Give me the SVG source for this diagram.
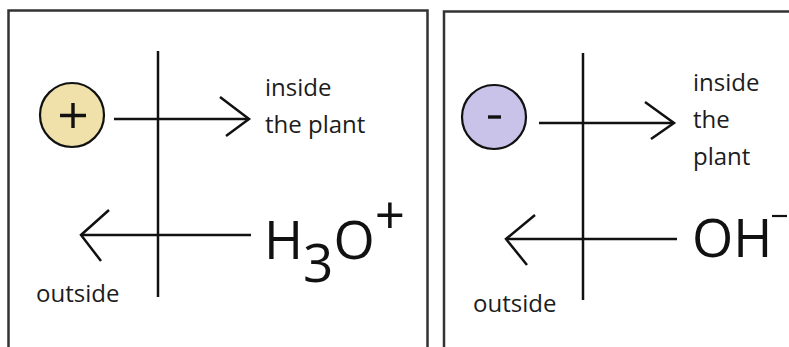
<svg xmlns="http://www.w3.org/2000/svg" width="789" height="347" viewBox="0 0 789 347">
<style>
.panel{fill:#fff;stroke:#333;stroke-width:2.5}
.ln{fill:none;stroke:#111;stroke-width:2.5;stroke-linecap:butt;stroke-linejoin:miter}
.lbl{font-family:"Open Sans","Noto Sans",sans-serif;font-size:24px;font-weight:500;fill:#1c1c1c}
.ion{font-family:"Open Sans","Noto Sans",sans-serif;font-size:53px;fill:#111}
.sign{fill:none;stroke:#111;stroke-width:3.4}
</style>
<rect width="789" height="347" fill="#fff"/>
<g id="panel-left">
<rect class="panel" x="8.5" y="10.5" width="419" height="350"/>
</g>
<g id="panel-right">
<rect class="panel" x="444" y="11.5" width="360" height="350"/>
</g>
<g id="connectors">
<line class="ln" x1="158" y1="51" x2="158" y2="297"/>
<line class="ln" x1="114" y1="119" x2="249" y2="119"/>
<polyline class="ln" points="220,97 249,119 226,136"/>
<line class="ln" x1="81" y1="235" x2="251" y2="235"/>
<polyline class="ln" points="109,210 81,235 101,261"/>
<line class="ln" x1="583" y1="53" x2="583" y2="300"/>
<line class="ln" x1="539" y1="123" x2="674" y2="123"/>
<polyline class="ln" points="645,102 674,123 651,139"/>
<line class="ln" x1="506" y1="239" x2="677" y2="239"/>
<polyline class="ln" points="535,215 506,239 527,265"/>
</g>
<g id="cation">
<circle cx="72" cy="115" r="32" fill="#EFE1A9" stroke="#111" stroke-width="2.2"/>
<path class="sign" d="M60,115.5 H86 M73,103 V128"/>
</g>
<g id="anion">
<circle cx="494" cy="117" r="32" fill="#C9C3EA" stroke="#111" stroke-width="2.2"/>
<path class="sign" d="M488,117 H501" stroke-width="4.5"/>
</g>
<g id="label-inside-left">
<text class="lbl" x="265" y="96">inside</text>
<text class="lbl" x="265" y="133">the plant</text>
</g>
<g id="label-outside-left">
<text class="lbl" x="36" y="302">outside</text>
</g>
<g id="label-h3o">
<text class="ion" x="264" y="259">H<tspan dy="23">3</tspan><tspan dy="-23">O</tspan><tspan dy="-25">+</tspan></text>
</g>
<g id="label-inside-right">
<text class="lbl" x="693" y="91">inside</text>
<text class="lbl" x="693" y="128">the</text>
<text class="lbl" x="693" y="165">plant</text>
</g>
<g id="label-outside-right">
<text class="lbl" x="473" y="312">outside</text>
</g>
<g id="label-oh">
<text class="ion" x="692" y="257">OH</text>
<line x1="772" y1="216" x2="787" y2="216" stroke="#111" stroke-width="2.2"/>
</g>
</svg>
